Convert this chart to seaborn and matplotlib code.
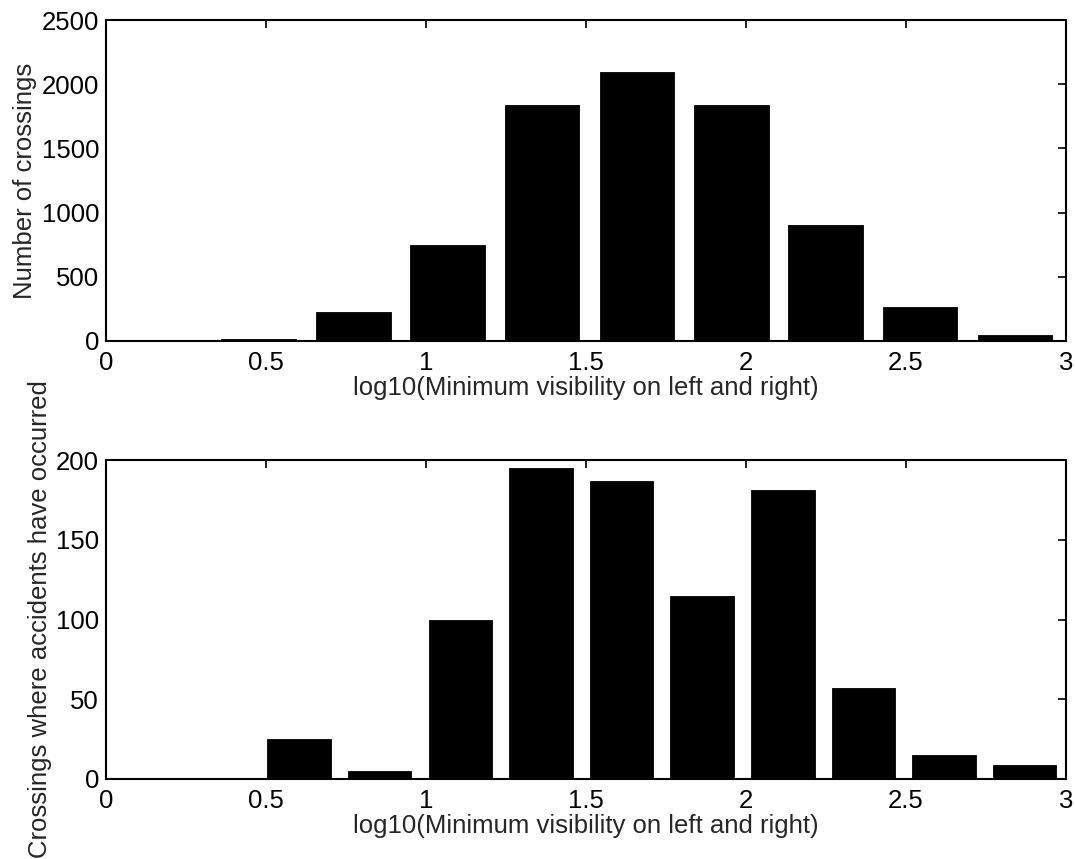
import matplotlib
matplotlib.use("Agg")
import matplotlib.pyplot as plt
import seaborn as sns
import numpy as np

# ---- data ----
top_centers = [0.182, 0.477, 0.773, 1.068, 1.363, 1.659, 1.954, 2.249, 2.544, 2.840]
top_counts = [3, 13, 222, 748, 1840, 2095, 1835, 905, 263, 43]

bot_centers = [0.603, 0.855, 1.107, 1.359, 1.611, 1.863, 2.115, 2.367, 2.619, 2.870]
bot_counts = [25, 5, 100, 195, 187, 115, 181, 57, 15, 9]

xticks = [0, 0.5, 1, 1.5, 2, 2.5, 3]
xtick_labels = ["0", "0.5", "1", "1.5", "2", "2.5", "3"]
top_yticks = [0, 500, 1000, 1500, 2000, 2500]
bot_yticks = [0, 50, 100, 150, 200]

xlabel = "log10(Minimum visibility on left and right)"
top_ylabel = "Number of crossings"
bot_ylabel = "Crossings where accidents have occurred"

sns.set_style("white")
plt.rcParams["font.family"] = ["Liberation Sans", "DejaVu Sans"]

fig = plt.figure(figsize=(10.75, 8.59), dpi=100)
ax1 = fig.add_axes([106 / 1075, (859 - 341) / 859, 960 / 1075, 321 / 859])
ax2 = fig.add_axes([106 / 1075, (859 - 779) / 859, 960 / 1075, 319 / 859])

fs = 18.5

def style(ax, yticks, ymax, ylabel):
    ax.set_xlim(0, 3)
    ax.set_ylim(0, ymax)
    ax.set_xticks(xticks)
    ax.set_xticklabels(xtick_labels)
    ax.set_yticks(yticks)
    ax.set_yticklabels([str(v) for v in yticks])
    ax.tick_params(direction="in", length=6, width=1.2, top=True, right=True,
                   labelsize=fs, colors="black")
    ax.tick_params(axis="x", pad=7)
    ax.tick_params(axis="y", pad=5)
    for s in ax.spines.values():
        s.set_visible(True)
        s.set_linewidth(1.5)
        s.set_color("black")
    ax.set_xlabel(xlabel, fontsize=fs, labelpad=1)
    ax.set_ylabel(ylabel, fontsize=fs, labelpad=3)

sns.barplot(x=top_centers, y=top_counts, native_scale=True, width=0.79,
            color="black", edgecolor="black", linewidth=0.6, errorbar=None,
            saturation=1, ax=ax1)
sns.barplot(x=bot_centers, y=bot_counts, native_scale=True, width=0.79,
            color="black", edgecolor="black", linewidth=0.6, errorbar=None,
            saturation=1, ax=ax2)

style(ax1, top_yticks, 2500, top_ylabel)
style(ax2, bot_yticks, 200, bot_ylabel)

fig.savefig("out.png", dpi=100, facecolor="white")
